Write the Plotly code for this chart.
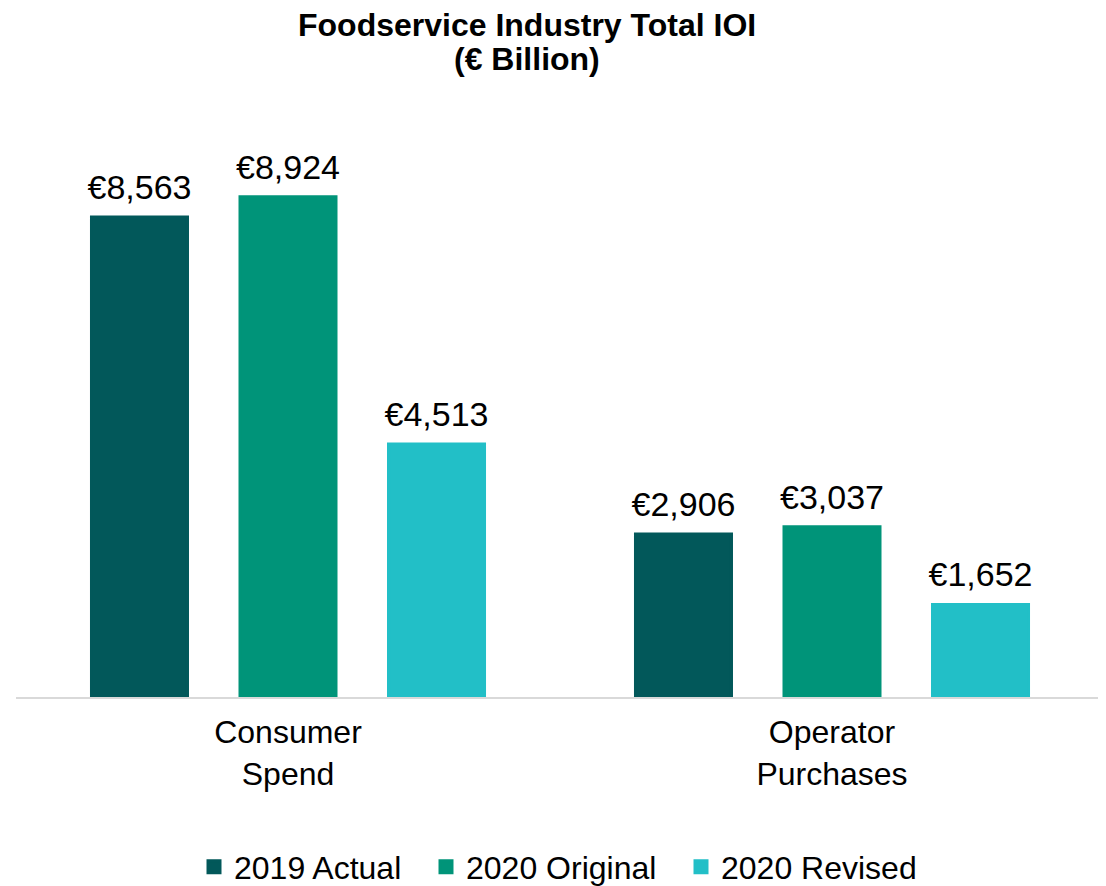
import plotly.graph_objects as go

categories = ["Consumer<br>Spend", "Operator<br>Purchases"]
series_names = ["2019 Actual", "2020 Original", "2020 Revised"]
actual_2019 = [8563, 2906]
original_2020 = [8924, 3037]
revised_2020 = [4513, 1652]
colors = ["#02585A", "#009479", "#22BFC7"]

FONT = "Liberation Sans, Arial, sans-serif"

# page has an 8px body margin; figure coordinates are shifted by -8
OFF = 8
W, H = 1106, 886
PLOT_TOP, PLOT_BOTTOM = 100 - OFF, 697 - OFF
PLOT_LEFT, PLOT_RIGHT = 16 - OFF, 1104 - OFF
PH = PLOT_BOTTOM - PLOT_TOP
PW = PLOT_RIGHT - PLOT_LEFT
LINE_W = 3
BARGAP = 0.181

def py(page_y):
    return (PLOT_BOTTOM - (page_y - OFF)) / PH

def px(page_x):
    return ((page_x - OFF) - PLOT_LEFT) / PW

legend_names = ["legend", "legend2", "legend3"]
legend_text_x = [235, 467, 722]

fig = go.Figure()
series = [actual_2019, original_2020, revised_2020]
for name, vals, col, lg in zip(series_names, series, colors, legend_names):
    fig.add_trace(go.Bar(
        x=categories, y=vals, name=name, legend=lg,
        marker=dict(color=col, line=dict(width=LINE_W, color=col)),
        hoverinfo="x+y+name",
    ))
# value labels, grouped like the bars
for name, vals in zip(series_names, series):
    fig.add_trace(go.Scatter(
        x=categories, y=vals, mode="markers+text", showlegend=False,
        marker=dict(size=14, opacity=0),
        texttemplate="€%{y:,}", textposition="top center", cliponaxis=False,
        textfont=dict(size=34, color="black", family=FONT), hoverinfo="skip",
    ))

layout_legends = {}
for lg, tx in zip(legend_names, legend_text_x):
    layout_legends[lg] = dict(orientation="h", x=px(tx - 41), xanchor="left",
                              y=py(867), yanchor="middle",
                              font=dict(size=32, family=FONT, color="black"),
                              bgcolor="rgba(0,0,0,0)")

fig.update_layout(
    width=W, height=H,
    paper_bgcolor="white", plot_bgcolor="white",
    font=dict(family=FONT, color="black"),
    margin=dict(l=PLOT_LEFT, r=W - PLOT_RIGHT, t=PLOT_TOP, b=H - PLOT_BOTTOM, autoexpand=False),
    barmode="group", bargap=BARGAP, bargroupgap=1 - (99 - LINE_W) / 148.5,
    scattermode="group", scattergap=BARGAP,
    showlegend=True,
    annotations=[
        dict(text="<b>Foodservice Industry Total IOI</b>", xref="paper", yref="paper",
             x=px(527), y=py(25), xanchor="center", yanchor="middle",
             showarrow=False, font=dict(size=32, family=FONT, color="black")),
        dict(text="<b>(€ Billion)</b>", xref="paper", yref="paper",
             x=px(527), y=py(59), xanchor="center", yanchor="middle",
             showarrow=False, font=dict(size=32, family=FONT, color="black")),
    ],
    **layout_legends,
)
fig.update_xaxes(showline=True, linecolor="#D9D9D9", linewidth=2, ticks="",
                 ticklabelstandoff=6,
                 tickfont=dict(size=32, family=FONT, color="black"), showgrid=False)
fig.update_yaxes(range=[0, 10650], visible=False, showgrid=False)

fig.write_html("out.html")
